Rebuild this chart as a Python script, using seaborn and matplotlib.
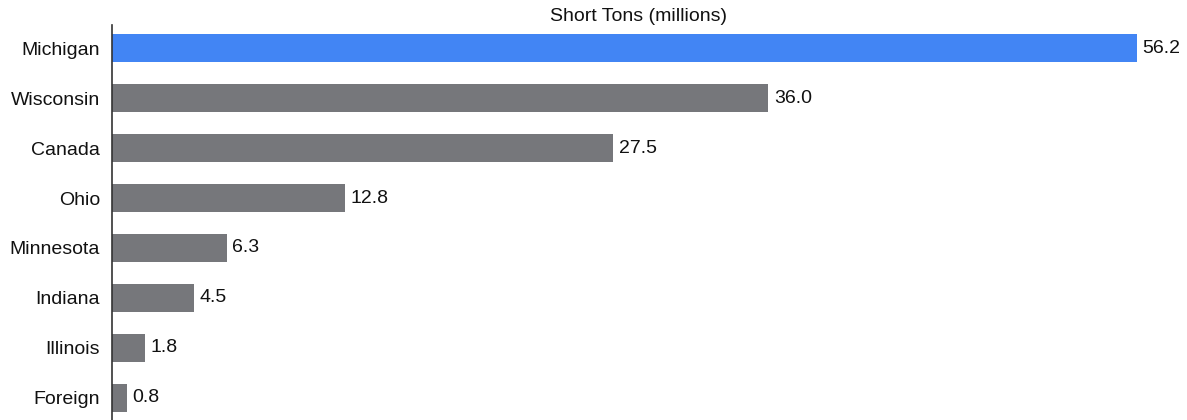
import matplotlib
matplotlib.use("Agg")
import matplotlib.pyplot as plt
import seaborn as sns
import pandas as pd

# Data
sources = ["Michigan", "Wisconsin", "Canada", "Ohio", "Minnesota", "Indiana", "Illinois", "Foreign"]
tons = [56.2, 36.0, 27.5, 12.8, 6.3, 4.5, 1.8, 0.8]
highlight = "Michigan"
title = "Short Tons (millions)"

df = pd.DataFrame({"source": sources, "tons": tons})

sns.set_style("white")
plt.rcParams["font.family"] = ["Liberation Sans", "DejaVu Sans"]

fig = plt.figure(figsize=(11.87, 4.20), dpi=100)
ax = fig.add_axes([112 / 1187, 0, 1052 / 1187, 395 / 420])

palette = {s: ("#4285F4" if s == highlight else "#76777B") for s in sources}
sns.barplot(data=df, x="tons", y="source", hue="source", palette=palette,
            order=sources, width=0.56, legend=False, ax=ax, saturation=1,
            linewidth=0)

for i, v in enumerate(tons):
    ax.text(v + 0.3, i, f"{v:.1f}", va="center", ha="left", fontsize=14, color="#111111")

ax.set_xlim(0, 57.7)
ax.set_ylim(7.45, -0.47)
ax.set_xlabel("")
ax.set_ylabel("")
ax.set_xticks([])
ax.tick_params(axis="y", length=0, pad=8.5, labelsize=14, labelcolor="#111111")
ax.set_title(title, fontsize=14, color="#111111", pad=1)

for side in ["top", "right", "bottom"]:
    ax.spines[side].set_visible(False)
ax.spines["left"].set_color("#333333")
ax.spines["left"].set_linewidth(1.2)

fig.savefig("out.png", dpi=100)
